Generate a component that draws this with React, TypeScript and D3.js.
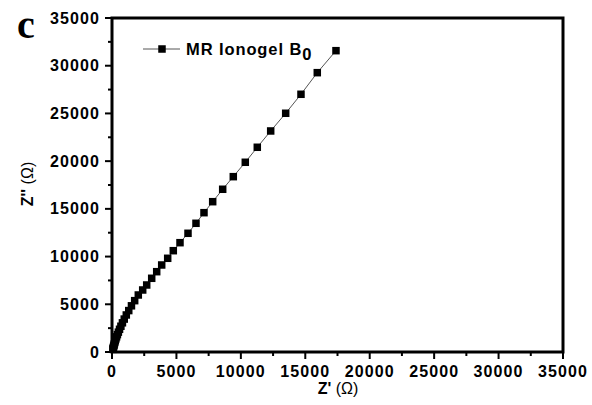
import React from "react";
import * as d3 from "d3";

const zReal = [
  17382, 15931, 14666, 13479, 12315, 11275, 10344, 9413, 8590, 7814, 7139, 6518,
  5898, 5277, 4757, 4322, 3857, 3469, 3081, 2693, 2382, 2041, 1760, 1510, 1300,
  1110, 950, 810, 690, 585, 495, 420, 355, 300, 255, 215, 180, 150, 125, 105, 88, 74,
];
const zImag = [
  31576, 29271, 27007, 25017, 23162, 21454, 19882, 18373, 17053, 15751, 14599, 13488,
  12440, 11455, 10616, 9820, 9118, 8416, 7724, 7022, 6498, 5974, 5380, 4840, 4340,
  3880, 3450, 3060, 2700, 2380, 2080, 1820, 1590, 1380, 1180, 1000, 840, 700, 570, 460, 360, 280,
];
const ticks = [0, 5000, 10000, 15000, 20000, 25000, 30000, 35000];
const minorTicks = [2500, 7500, 12500, 17500, 22500, 27500, 32500];
const seriesName = "MR Ionogel B";
const seriesSub = "0";

const W = 592;
const H = 405;
const X0 = 112, X1 = 563, Y0 = 352, Y1 = 18;

export default function App() {
  const x = d3.scaleLinear().domain([0, 35000]).range([X0, X1]);
  const y = d3.scaleLinear().domain([0, 35000]).range([Y0, Y1]);
  const pts = zReal.map((v, i) => [v, zImag[i]] as [number, number]);
  const line = d3.line<[number, number]>().x((d) => x(d[0])).y((d) => y(d[1]));
  const ms = 7.5;
  const font = "'Liberation Sans', Arial, sans-serif";
  return (
    <svg width={W} height={H} style={{ position: "absolute", left: 0, top: 0, background: "#fff" }}>
      <rect x={0} y={0} width={W} height={H} fill="#fff" />
      <path d={line(pts) || ""} fill="none" stroke="#555" strokeWidth={1} />
      {pts.map((d, i) => (
        <rect key={i} x={x(d[0]) - ms / 2} y={y(d[1]) - ms / 2} width={ms} height={ms} fill="#000" />
      ))}
      {/* frame */}
      <rect x={X0} y={Y1} width={X1 - X0} height={Y0 - Y1} fill="none" stroke="#000" strokeWidth={3} />
      {/* x ticks */}
      {ticks.map((t) => (
        <g key={"x" + t}>
          <line x1={x(t)} x2={x(t)} y1={Y0} y2={Y0 + 7} stroke="#000" strokeWidth={2} />
          <text x={x(t)} y={377} textAnchor="middle" fontFamily={font} fontWeight="bold" fontSize={16} letterSpacing={1.1}>
            {t}
          </text>
        </g>
      ))}
      {minorTicks.map((t) => (
        <line key={"xm" + t} x1={x(t)} x2={x(t)} y1={Y0} y2={Y0 + 4} stroke="#000" strokeWidth={2} />
      ))}
      {/* y ticks */}
      {ticks.map((t) => (
        <g key={"y" + t}>
          <line x1={X0} x2={X0 - 7} y1={y(t)} y2={y(t)} stroke="#000" strokeWidth={2} />
          <text x={100} y={y(t) + 5.5} textAnchor="end" fontFamily={font} fontWeight="bold" fontSize={16} letterSpacing={1.1}>
            {t}
          </text>
        </g>
      ))}
      {minorTicks.map((t) => (
        <line key={"ym" + t} x1={X0} x2={X0 - 4} y1={y(t)} y2={y(t)} stroke="#000" strokeWidth={2} />
      ))}
      {/* axis titles */}
      <text x={338} y={394} textAnchor="middle" fontFamily={font} fontSize={16}>
        <tspan fontWeight="bold">Z'</tspan>
        <tspan> (Ω)</tspan>
      </text>
      <text transform="translate(33,184) rotate(-90)" textAnchor="middle" fontFamily={font} fontSize={16}>
        <tspan fontWeight="bold">Z''</tspan>
        <tspan> (Ω)</tspan>
      </text>
      {/* panel label */}
      <text x={17} y={38} fontFamily="'Liberation Serif', 'Times New Roman', serif" fontWeight="bold" fontSize={40}>
        c
      </text>
      {/* legend */}
      <line x1={143} x2={180} y1={49} y2={49} stroke="#555" strokeWidth={1} />
      <rect x={162 - ms / 2} y={49 - ms / 2} width={ms} height={ms} fill="#000" />
      <text x={186} y={55} fontFamily={font} fontWeight="bold" fontSize={16.5} letterSpacing={0.9}>
        {seriesName}
        <tspan dy={5} fontSize={16.5}>{seriesSub}</tspan>
      </text>
    </svg>
  );
}
